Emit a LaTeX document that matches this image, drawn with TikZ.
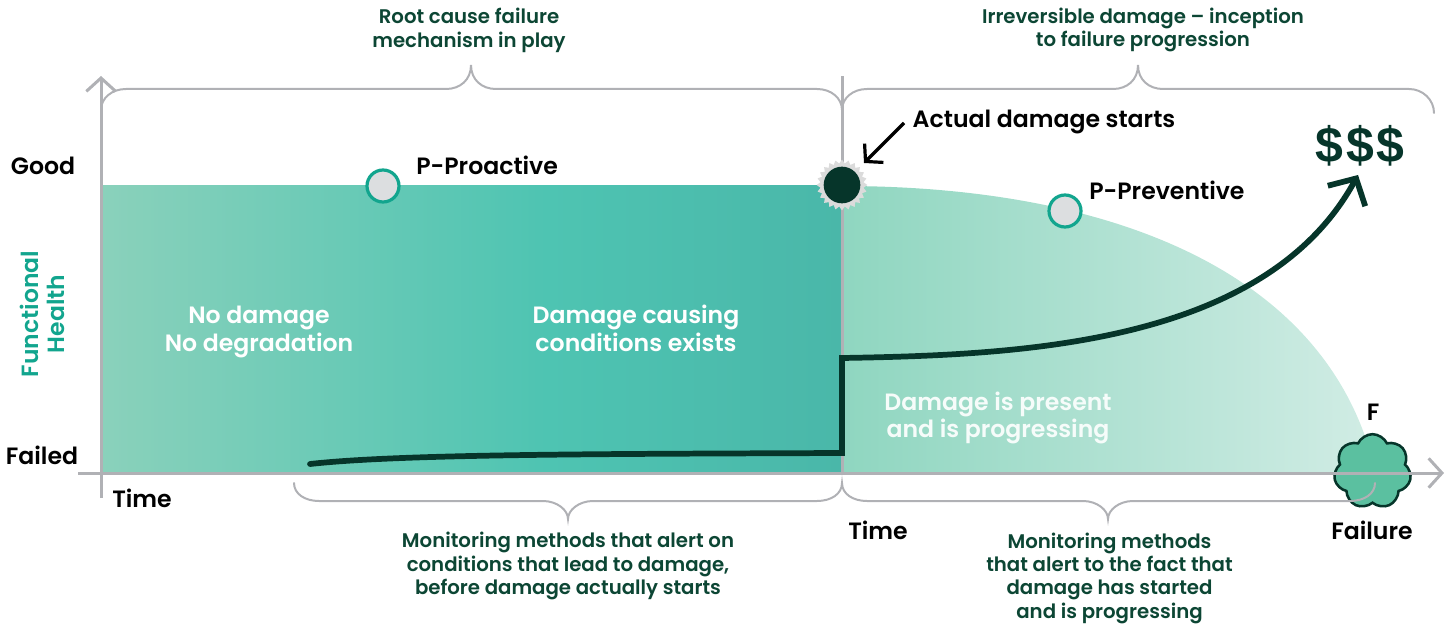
\documentclass[tikz,border=0pt]{standalone}
\usepackage{fontspec}
\setmainfont{Poppins SemiBold}
\newfontfamily\dollarfont{Liberation Sans}[Scale=1]
\usetikzlibrary{arrows.meta,shapes.geometric,shapes.symbols}
\definecolor{axisgrey}{HTML}{B0B1B5}
\definecolor{darkgreen}{HTML}{06352A}
\definecolor{labelgreen}{HTML}{0C4634}
\definecolor{teal}{HTML}{12A58E}
\definecolor{cloudfill}{HTML}{5BC0A0}
\definecolor{markfill}{HTML}{DCDEE0}
\definecolor{la}{HTML}{8AD1BB}
\definecolor{lb}{HTML}{4EC4B2}
\definecolor{lc}{HTML}{4AB7A9}
\definecolor{ra}{HTML}{8FD6C0}
\definecolor{rb}{HTML}{D0ECE4}
\pgfdeclarehorizontalshading{leftgrad}{100bp}{color(0bp)=(la);color(25bp)=(la);color(55bp)=(lb);color(75bp)=(lc);color(100bp)=(lc)}
\pgfdeclarehorizontalshading{rightgrad}{100bp}{color(0bp)=(ra);color(25bp)=(ra);color(75bp)=(rb);color(100bp)=(rb)}
\tikzset{
  axisline/.style={draw=axisgrey,line width=2.25pt,-{Straight Barb[length=10pt,width=22pt,line width=2.25pt]}},
  bracket/.style={draw=axisgrey,line width=1.5pt,line cap=round},
  lbl/.style={align=center,inner sep=0pt},
  bracketlabel/.style={lbl,text=labelgreen,font=\fontsize{14.8}{17.5}\selectfont},
  insidelabel/.style={lbl,text=white,font=\fontsize{17.7}{20.6}\selectfont},
  keylabel/.style={lbl,text=black,font=\fontsize{17.7}{20}\selectfont},
  pmark/.style={circle,draw=teal,fill=markfill,line width=2.4pt,minimum size=24pt,inner sep=0pt},
}
\begin{document}
\begin{tikzpicture}[x=0.75pt,y=-0.75pt]
\useasboundingbox (0,0) rectangle (1452,624);
% fills
\path[shading=leftgrad] (102,186) rectangle (842,473);
\path[shading=rightgrad] (842,186) .. controls (1100,186) and (1310,265) .. (1368,445) -- (1368,473) -- (842,473) -- cycle;
% cloud
\node[cloud,cloud puffs=7,cloud puff arc=130,aspect=1,draw=darkgreen,fill=cloudfill,line width=1.9pt,minimum width=58pt,minimum height=56pt,inner sep=0pt] (cloudF) at (1372.5,471.5) {};
% axes
\coordinate (yb) at (101,498);
\coordinate (yt) at (101,76);
\coordinate (xl) at (78,473);
\coordinate (xr) at (1444,473);
\coordinate (db) at (842,473);
\coordinate (dt) at (842,76);
\draw[axisline] (yb) -- (yt);
\draw[axisline] (xl) -- (xr);
\draw[draw=axisgrey,line width=2.25pt] (db) -- (dt);
% brackets
\draw[bracket] (101,110) .. controls (101,98) and (112,89) .. (126,89) -- (446,89) .. controls (460,89) and (471,80) .. (471,65) .. controls (471,80) and (482,89) .. (496,89) -- (817,89) .. controls (831,89) and (842,98) .. (842,110) .. controls (842,98) and (853,89) .. (867,89) -- (1113,89) .. controls (1127,89) and (1138,80) .. (1138,65) .. controls (1138,80) and (1149,89) .. (1163,89) -- (1409,89) .. controls (1423,89) and (1434,100) .. (1434,113);
\draw[bracket] (294,483) .. controls (294,494) and (305,501) .. (319,501) -- (543,501) .. controls (557,501) and (568,510) .. (568,519) .. controls (568,510) and (579,501) .. (593,501) -- (817,501) .. controls (831,501) and (842,494) .. (842,483) .. controls (842,494) and (853,501) .. (867,501) -- (1083,501) .. controls (1097,501) and (1108,510) .. (1108,519) .. controls (1108,510) and (1119,501) .. (1133,501) -- (1350,501) .. controls (1364,501) and (1375,494) .. (1375,483);
% burst
\node[star,star points=24,star point ratio=1.17,fill=black!14,minimum size=38pt,inner sep=0pt] (burst) at (842,185) {};
\node[circle,fill=darkgreen,minimum size=27.5pt,inner sep=0pt] (core) at (842,185) {};
% labels
\node[keylabel] (actual) at (1044,122) {Actual damage starts};
\coordinate (arrowstart) at (904,123);
\coordinate (arrowend) at (864,163);
\draw[black,line width=2.4pt,-{Straight Barb[length=9pt,width=20pt,line width=2.4pt]}] (arrowstart) -- (arrowend);
% P markers
\node[pmark] (pp) at (383,186) {};
\node[pmark] (pv) at (1065,211) {};
\node[keylabel,anchor=west] (pptext) at (416,165.5) {P-Proactive};
\node[keylabel,anchor=west] (pvtext) at (1089,190.5) {P-Preventive};
% main curve
\coordinate (c1) at (310,464);
\coordinate (c2) at (842,453);
\coordinate (c3) at (842,358);
\coordinate (c4) at (1358,175);
\draw[darkgreen,line width=4.3pt,line cap=round,miter limit=10,-{Straight Barb[length=15pt,width=32pt,line width=4.3pt]}] (c1) .. controls (400,454) and (600,454) .. (c2) -- (c3) .. controls (1020,355) and (1265,345) .. (c4);
% text
\node[bracketlabel] (t1) at (469,30.5) {Root cause failure\\mechanism in play};
\node[bracketlabel] (t2) at (1143,30) {Irreversible damage -- inception\\to failure progression};
\node[bracketlabel] (t3) at (568,566) {Monitoring methods that alert on\\conditions that lead to damage,\\before damage actually starts};
\node[bracketlabel] (t4) at (1109.5,578) {Monitoring methods\\that alert to the fact that\\damage has started\\and is progressing};
\node[keylabel] (good) at (43,166) {Good};
\node[keylabel] (failed) at (42,455) {Failed};
\node[keylabel] (time1) at (142,498) {Time};
\node[keylabel] (time2) at (878,530) {Time};
\node[keylabel] (failure) at (1372,530.5) {Failure};
\node[keylabel] (ftext) at (1373,412) {F};
\node[lbl,rotate=90,text=teal,font=\fontsize{17.6}{20}\selectfont] (fh) at (42.5,314) {Functional\\Health};
\node[insidelabel] (i1) at (259,332) {No damage\\No degradation};
\node[insidelabel] (i2) at (636,328.5) {Damage causing\\conditions exists};
\node[insidelabel,text=white!92!ra] (i3) at (998,418) {Damage is present\\and is progressing};
\node[inner sep=0pt,text=darkgreen,font={\dollarfont\bfseries\fontsize{37.5}{40}\selectfont}] (money) at (1360,146) {\$\kern2pt\$\kern2pt\$};
\end{tikzpicture}
\end{document}
